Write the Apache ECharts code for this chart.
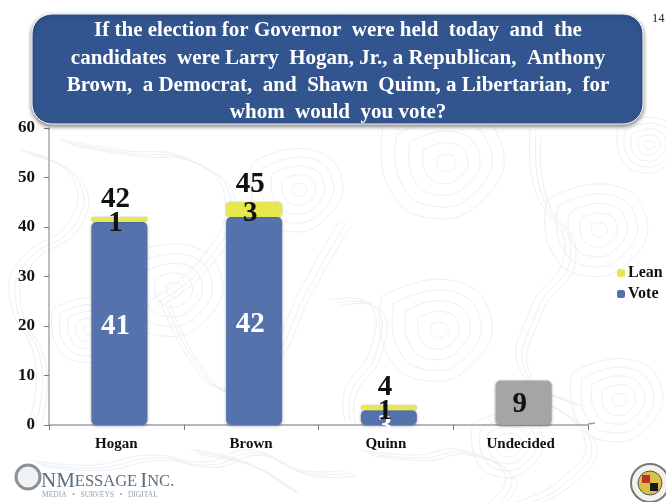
<!DOCTYPE html>
<html>
<head>
<meta charset="utf-8">
<style>
  html, body { margin: 0; padding: 0; background: #fff; }
  #main { width: 666px; height: 502px; }
</style>
</head>
<body>
<div id="main"></div>
<script src="https://cdn.jsdelivr.net/npm/echarts@6/dist/echarts.min.js"></script>
<script>
var categories = ["Hogan", "Brown", "Quinn", "Undecided"];
var voteValues = [41, 42, 3, null];
var leanValues = [1, 3, 1, null];
var undecidedValues = [null, null, null, 9];
var totalValues = [42, 45, 4, null];
var yTicks = { min: 0, max: 60, interval: 10 };
var legendNames = ["Lean", "Vote"];

var titleText = "If the election for Governor  were held  today  and  the\n" +
  "candidates  were Larry  Hogan, Jr., a Republican,  Anthony\n" +
  "Brown,  a Democrat,  and  Shawn  Quinn, a Libertarian,  for\n" +
  "whom  would  you vote?";

var serif = '"Liberation Serif", serif';

// faint map contours behind the chart: long lines and ring groups
var contours = [
  [[20, 150], [70, 175], [70, 220], [20, 260], [10, 300], [35, 360], [30, 420]],
  [[60, 140], [120, 150], [190, 160], [225, 200], [200, 260], [150, 300]],
  [[160, 300], [190, 360], [225, 388], [265, 360], [300, 290], [340, 220]],
  [[530, 130], [535, 190], [565, 250], [530, 310], [520, 370], [570, 400]],
  [[330, 300], [370, 305], [370, 350], [345, 390], [345, 420]],
  [[30, 460], [90, 465], [150, 455], [205, 462], [250, 450], [300, 470], [345, 470]],
  [[360, 450], [415, 455], [460, 450], [505, 475], [490, 502]],
  [[540, 400], [585, 440], [560, 480], [515, 502]],
  [[190, 450], [245, 462], [290, 490]]
];
var ringCentres = [[447, 163, 1.2], [600, 230, 1], [650, 145, 0.6], [175, 290, 1], [300, 190, 0.9], [440, 330, 1.1], [620, 400, 0.9], [90, 330, 0.7], [510, 445, 0.7]];
var ringBlob = [[-14, -8], [2, -12], [12, -4], [8, 8], [-4, 12], [-13, 5]];
var ringScales = [0.6, 1.4, 2.2, 3, 3.8];

var backgroundLines = [];
contours.forEach(function (pts) {
  [0, 6, 11].forEach(function (off) {
    backgroundLines.push({
      type: "polyline",
      silent: true,
      z: -10,
      shape: { points: pts.map(function (p) { return [p[0] + off, p[1] + off / 2]; }), smooth: 0.5 },
      style: { fill: null, stroke: "#ebf0f4", lineWidth: 1 }
    });
  });
});
ringCentres.forEach(function (c) {
  ringScales.forEach(function (s) {
    var pts = ringBlob.map(function (p) { return [c[0] + p[0] * s * c[2], c[1] + p[1] * s * c[2]]; });
    pts.push(pts[0]);
    backgroundLines.push({
      type: "polyline",
      silent: true,
      z: -10,
      shape: { points: pts, smooth: 0.5 },
      style: { fill: null, stroke: "#ebf0f4", lineWidth: 1 }
    });
  });
});

// labels sit on the band centre, the bars a little to the right of it
var labelBase = { show: true, position: "inside", fontFamily: serif, fontWeight: "bold", fontSize: 29 };

var voteData = voteValues.map(function (v, i) {
  // Quinn's white 3 hangs down at the foot of its short bar
  return i === 2 ? { value: v, label: { offset: [-4, 9] } } : v;
});

var oChart = echarts.init(document.getElementById("main"), null, { renderer: "canvas" });

oChart.setOption({
  animation: false,
  backgroundColor: "#fff",
  textStyle: { fontFamily: serif },
  legend: {
    data: legendNames,
    orient: "vertical",
    left: 617,
    top: 265,
    itemWidth: 8,
    itemHeight: 8,
    itemGap: 5,
    padding: 0,
    textStyle: { fontFamily: serif, fontWeight: "bold", fontSize: 16, color: "#111", padding: [0, 0, 0, -2] }
  },
  // grid 0 carries the axes, grid 1 the bars
  grid: [
    { left: 49, top: 128, width: 539, height: 297 },
    { left: 52, top: 128, width: 539, height: 297 }
  ],
  xAxis: [
    {
      type: "category",
      gridIndex: 0,
      data: categories,
      axisLine: { lineStyle: { color: "#a0a0a0", width: 1.5 } },
      axisTick: { show: true, length: 5, lineStyle: { color: "#777" } },
      axisLabel: { fontFamily: serif, fontWeight: "bold", fontSize: 15, color: "#111", margin: 12 }
    },
    { type: "category", gridIndex: 1, data: categories, show: false }
  ],
  yAxis: [
    {
      type: "value",
      gridIndex: 0,
      min: yTicks.min,
      max: yTicks.max,
      interval: yTicks.interval,
      splitLine: { show: false },
      axisLine: { show: true, lineStyle: { color: "#a8a8a8", width: 1.5 } },
      axisTick: { show: true, length: 5, lineStyle: { color: "#777" } },
      axisLabel: { fontFamily: serif, fontWeight: "bold", fontSize: 17, color: "#111", margin: 14 }
    },
    { type: "value", gridIndex: 1, min: yTicks.min, max: yTicks.max, interval: yTicks.interval, show: false }
  ],
  series: [
    {
      name: "Vote",
      type: "bar",
      xAxisIndex: 1,
      yAxisIndex: 1,
      stack: "a",
      barWidth: 56,
      data: voteData,
      itemStyle: { color: "#5672ad", borderRadius: 5, shadowBlur: 3, shadowColor: "rgba(0,0,0,0.35)", shadowOffsetY: 1 },
      label: Object.assign({}, labelBase, { color: "#fff", offset: [-4, 3] })
    },
    {
      name: "Lean",
      type: "bar",
      xAxisIndex: 1,
      yAxisIndex: 1,
      stack: "a",
      barWidth: 56,
      data: leanValues,
      itemStyle: { color: "#e6e84e", borderRadius: 4, shadowBlur: 2, shadowColor: "rgba(0,0,0,0.3)" },
      label: Object.assign({}, labelBase, { color: "#111", offset: [-4, 4] })
    },
    {
      name: "Undecided",
      type: "bar",
      xAxisIndex: 1,
      yAxisIndex: 1,
      stack: "a",
      barWidth: 56,
      data: undecidedValues,
      itemStyle: { color: "#a5a5a5", borderRadius: 5, shadowBlur: 3, shadowColor: "rgba(0,0,0,0.4)", shadowOffsetY: 1 },
      label: Object.assign({}, labelBase, { color: "#111", offset: [-4, 2] })
    },
    {
      // totals above the stacks
      name: "Total",
      type: "line",
      xAxisIndex: 1,
      yAxisIndex: 1,
      data: totalValues,
      symbol: "circle",
      symbolSize: 1,
      itemStyle: { color: "transparent" },
      lineStyle: { opacity: 0 },
      silent: true,
      z: 5,
      label: Object.assign({}, labelBase, { position: "top", distance: 3, color: "#111", offset: [-4, 0] })
    }
  ],
  graphic: backgroundLines.concat([
    {
      type: "rect",
      silent: true,
      z: 10,
      shape: { x: 32, y: 14, width: 611, height: 110, r: 20 },
      style: { fill: "#33558f", stroke: "#fff", lineWidth: 1, shadowBlur: 4, shadowColor: "rgba(0,0,0,0.5)", shadowOffsetY: 2 }
    },
    {
      type: "text",
      silent: true,
      z: 11,
      x: 338,
      y: 17,
      style: {
        text: titleText,
        fill: "#fff",
        fontFamily: serif,
        fontWeight: "bold",
        fontSize: 21,
        lineHeight: 27.4,
        align: "center",
        verticalAlign: "top"
      }
    },
    { type: "text", silent: true, x: 652, y: 12, style: { text: "14", fill: "#222", fontFamily: serif, fontSize: 12.5 } },
    // floor of the chart, runs past the last tick
    { type: "line", silent: true, z: 3, shape: { x1: 588, y1: 424, x2: 595, y2: 423 }, style: { stroke: "#a0a0a0", lineWidth: 1.5 } },
    // OnMessage logo
    { type: "circle", silent: true, shape: { cx: 28, cy: 477, r: 12 }, style: { fill: "rgba(120,130,135,0.1)", stroke: "#8b9396", lineWidth: 3 } },
    {
      type: "text",
      silent: true,
      x: 41,
      y: 471,
      style: {
        text: "{b|N}{b|M}{s|ESSAGE} {b|I}{s|NC.}",
        fill: "#5c6f80",
        fontFamily: serif,
        rich: {
          b: { fontFamily: serif, fontSize: 21, fill: "#5c6f80" },
          s: { fontFamily: serif, fontSize: 16.5, fill: "#5c6f80" }
        }
      }
    },
    { type: "text", silent: true, x: 42, y: 491, style: { text: "MEDIA   •   SURVEYS   •   DIGITAL", fill: "#9aa3aa", fontFamily: serif, fontSize: 7.5 } },
    // state seal, cut off by the right edge
    { type: "circle", silent: true, shape: { cx: 650, cy: 483, r: 19 }, style: { fill: "#f2f2ee", stroke: "#777", lineWidth: 2 } },
    { type: "circle", silent: true, shape: { cx: 650, cy: 483, r: 12 }, style: { fill: "#d8c04a", stroke: "#555", lineWidth: 1 } },
    { type: "rect", silent: true, shape: { x: 642, y: 475, width: 8, height: 8 }, style: { fill: "#c0312b" } },
    { type: "rect", silent: true, shape: { x: 650, y: 483, width: 8, height: 8 }, style: { fill: "#1a1a1a" } }
  ])
});
</script>
</body>
</html>
